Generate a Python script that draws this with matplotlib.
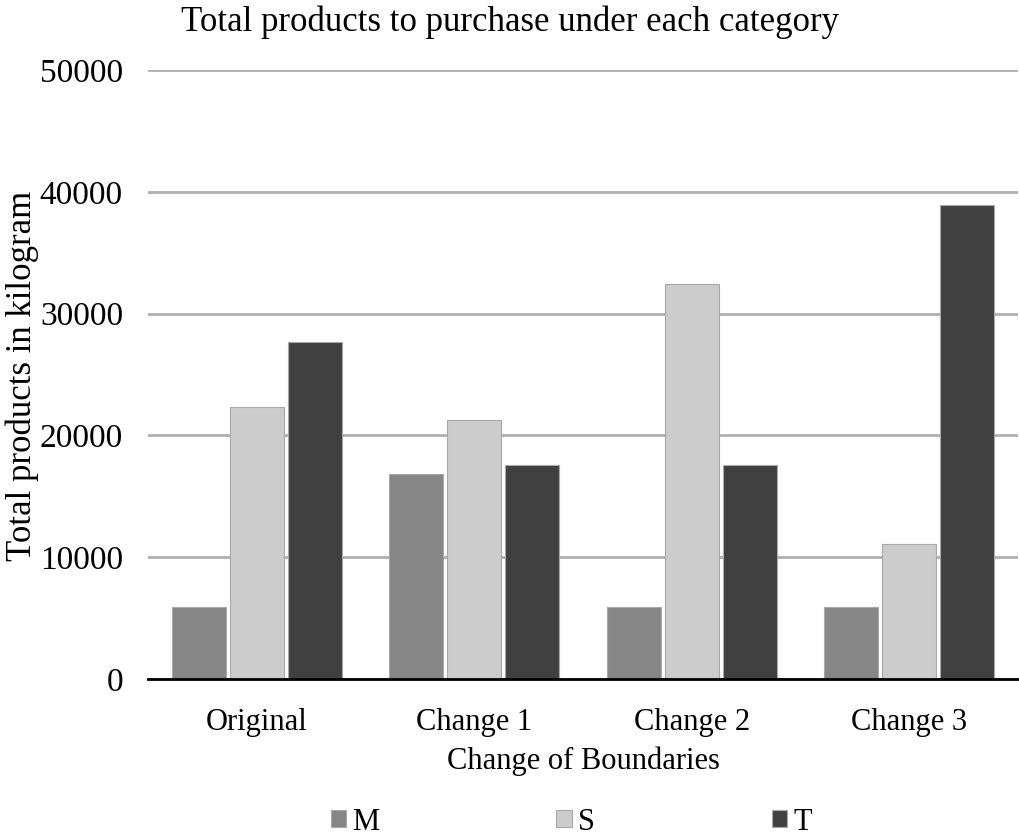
import matplotlib
matplotlib.use("Agg")
import matplotlib.pyplot as plt
import numpy as np

categories = ["Original", "Change 1", "Change 2", "Change 3"]
m_vals = [5900, 16800, 5900, 5900]
s_vals = [22300, 21300, 32400, 11100]
t_vals = [27700, 17600, 17600, 38900]

plt.rcParams['font.family'] = ['Liberation Serif', 'DejaVu Serif']

fig = plt.figure(figsize=(10.2, 8.36), dpi=100)
ax = fig.add_axes([148/1020, 1 - 679/836, (1018-148)/1020, (679-70)/836])

x = np.arange(len(categories))
w = 0.248
step = 0.267
series = [("M", m_vals, "#868686"), ("S", s_vals, "#cccccc"), ("T", t_vals, "#404040")]
for i, (name, vals, col) in enumerate(series):
    ax.bar(x + (i - 1) * step, vals, w, color=col, edgecolor="#a8a8a8", linewidth=0.8,
           label=name, zorder=3)

ax.set_xlim(-0.5, 3.5)
ax.set_ylim(0, 50000)
ax.set_yticks(range(0, 50001, 10000))
ax.yaxis.grid(True, color="#b0b0b0", linewidth=2, zorder=0)
ax.set_axisbelow(True)
for sp in ["top", "right", "left"]:
    ax.spines[sp].set_visible(False)
ax.spines["bottom"].set_linewidth(2)
ax.spines["bottom"].set_color("black")
ax.spines["bottom"].set_zorder(4)
ax.tick_params(axis="y", length=0, labelsize=24, pad=18)
ax.tick_params(axis="x", length=0, labelsize=22, pad=21)
ax.set_xticks(x)
ax.set_xticklabels(categories)

ax.set_xlabel("Change of Boundaries", fontsize=22, labelpad=7)
fig.text(22/1020, 1 - 376/836, "Total products in kilogram", rotation=90,
         ha="center", va="center", fontsize=25)
fig.text(0.5, 1 - 22/836, "Total products to purchase under each category",
         ha="center", va="center", fontsize=25)

ax.legend(loc="center", bbox_to_anchor=(0.56, 1 - 822/836), bbox_transform=fig.transFigure,
          ncol=3, frameon=False, fontsize=22, handlelength=0.5, handleheight=0.5,
          handletextpad=0.2, columnspacing=5.8)

fig.savefig("out.png", dpi=100)
